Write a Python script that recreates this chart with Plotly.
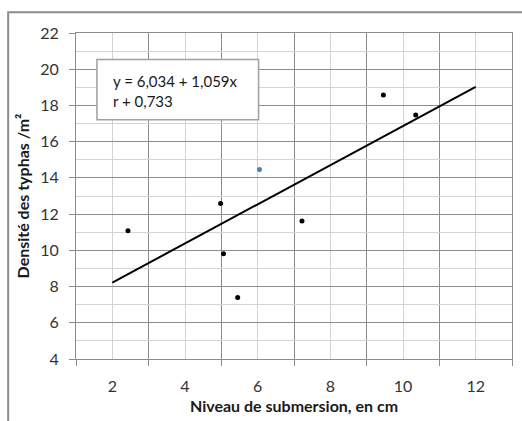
import plotly.graph_objects as go

# Data
black_x = [2.43, 4.98, 5.06, 5.45, 7.22, 9.46, 10.35]
black_y = [11.08, 12.58, 9.81, 7.40, 11.62, 18.58, 17.47]
blue_x = [6.05]
blue_y = [14.46]
line_x = [2, 12]
line_y = [8.22, 19.02]

x_labels = [2, 4, 6, 8, 10, 12]
x_major_grid = [1, 3, 5, 7, 9, 11, 13]
y_major = [4, 6, 8, 10, 12, 14, 16, 18, 20, 22]
y_minor = [5, 7, 9, 11, 13, 15, 17, 19, 21]

eq_text = "y = 6,034 + 1,059x<br>r + 0,733"
x_title = "Niveau de submersion, en cm"
y_title = "Densité des typhas /m²"

FONT = "Lato"
DARK = "#8c8c8c"
LIGHT = "#d4d4d4"
TICKC = "#333333"

fig = go.Figure()
fig.add_trace(go.Scatter(x=line_x, y=line_y, mode="lines",
                         line=dict(color="black", width=2), hoverinfo="skip"))
fig.add_trace(go.Scatter(x=black_x, y=black_y, mode="markers",
                         marker=dict(color="black", size=5)))
fig.add_trace(go.Scatter(x=blue_x, y=blue_y, mode="markers",
                         marker=dict(color="#4a7ebb", size=5)))

fig.update_layout(
    width=522, height=421,
    margin=dict(l=76, r=9, t=33, b=57),
    paper_bgcolor="white", plot_bgcolor="white",
    showlegend=False,
    font=dict(family=FONT, color=TICKC),
    xaxis=dict(
        range=[1, 13], tickvals=x_labels, ticktext=[str(v) for v in x_labels],
        showgrid=True, gridcolor=LIGHT, gridwidth=1.3,
        ticks="", ticklabelstandoff=13,
        tickfont=dict(size=16, family=FONT, color=TICKC),
        minor=dict(tickvals=x_major_grid, showgrid=True, gridcolor=DARK, gridwidth=1,
                   ticks="outside", ticklen=6, tickcolor=DARK, tickwidth=1),
        showline=True, linecolor=DARK, linewidth=1, mirror=True,
        zeroline=False,
        title=dict(text=x_title, font=dict(size=16, family=FONT, color="#1a1a1a", weight="bold"),
                   standoff=6),
    ),
    yaxis=dict(
        range=[4, 22], tickvals=y_major, ticktext=[str(v) for v in y_major],
        showgrid=True, gridcolor=DARK, gridwidth=1,
        ticks="outside", ticklen=6, tickcolor=DARK, tickwidth=1,
        ticklabelstandoff=7,
        tickfont=dict(size=16, family=FONT, color=TICKC),
        minor=dict(tickvals=y_minor, showgrid=True, gridcolor=LIGHT, gridwidth=1.3, ticks=""),
        showline=True, linecolor=DARK, linewidth=1, mirror=True,
        zeroline=False,
        title=dict(text=y_title, font=dict(size=16, family=FONT, color="#1a1a1a", weight="bold"),
                   standoff=6),
    ),
)

# Outer chart border (partially visible)
fig.add_shape(type="rect", xref="paper", yref="paper",
              x0=(8 - 76) / 437, x1=(540 - 76) / 437,
              y0=(364 - 440) / 331, y1=(364 - 12) / 331,
              line=dict(color="#8c8c8c", width=2), fillcolor="rgba(0,0,0,0)", layer="below")

# Equation box
fig.add_shape(type="rect", xref="paper", yref="paper",
              x0=(97 - 76) / 437, x1=(259 - 76) / 437,
              y0=(364 - 121) / 331, y1=(364 - 60) / 331,
              line=dict(color="#a0a0a0", width=1.5), fillcolor="white", layer="above")
fig.add_annotation(text=eq_text, xref="paper", yref="paper",
                   x=(111 - 76) / 437, y=(364 - 91.5) / 331,
                   xanchor="left", yanchor="middle", align="left", showarrow=False,
                   font=dict(size=15, family=FONT, color="#1a1a1a"))

fig.write_html("out.html")
